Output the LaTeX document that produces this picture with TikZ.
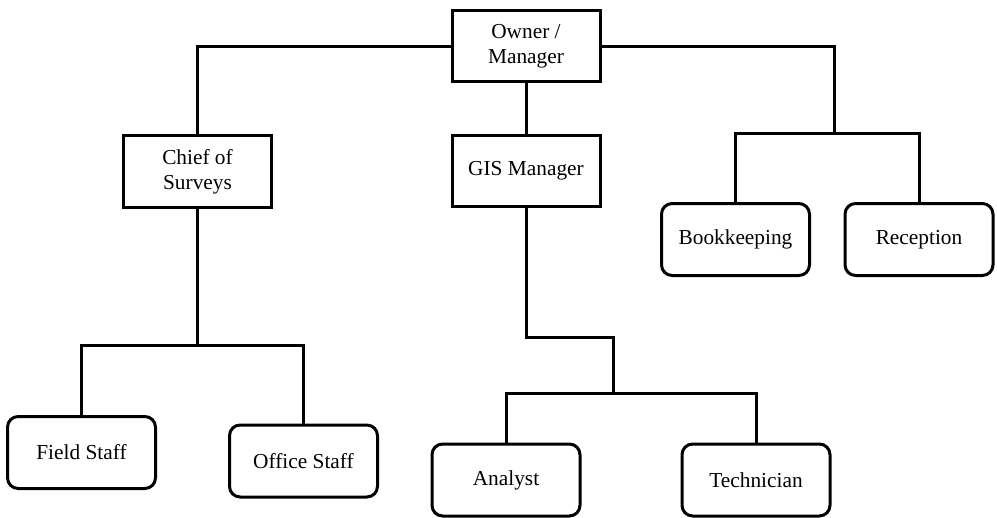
\documentclass[tikz,border=0pt]{standalone}
\usepackage{fontspec}
\setmainfont{Liberation Serif}
\begin{document}
\begin{tikzpicture}[x=0.75pt,y=-0.75pt,
  line width=2.25pt, line join=miter,
  every node/.style={font=\fontsize{16pt}{19pt}\selectfont, inner sep=0pt, align=center},
  sqbox/.style={draw, rectangle, minimum width=111pt, minimum height=53.5pt},
  rndbox/.style={draw, rectangle, rounded corners=8pt, minimum width=111pt, minimum height=54pt},
  conn/.style={line width=2.25pt}]
\useasboundingbox (0,0) rectangle (997,518);
\fill[white] (0,0) rectangle (997,518);
% nodes
\node[sqbox] (owner) at (526,46) {Owner /\\Manager};
\node[sqbox] (chief) at (197.5,171.5) {Chief of\\Surveys};
\node[sqbox] (gis) at (526,171) {GIS Manager};
\node[rndbox] (book) at (735.5,239.5) {Bookkeeping};
\node[rndbox] (recep) at (919,239.5) {Reception};
\node[rndbox] (field) at (81.5,452.5) {Field Staff};
\node[rndbox] (office) at (303.5,461) {Office Staff};
\node[rndbox] (analyst) at (506,480) {Analyst};
\node[rndbox] (tech) at (756,480) {Technician};
% junctions
\coordinate (jr) at (834,133);
\coordinate (jc) at (197.5,345);
\coordinate (jg) at (613,337);
\coordinate (jg2) at (613,393);
% connectors
\draw[conn] (owner.west) -| (chief.north);
\draw[conn] (owner.east) -| (jr);
\draw[conn] (book.north) |- (jr) -| (recep.north);
\draw[conn] (owner.south) -- (gis.north);
\draw[conn] (chief.south) -- (jc);
\draw[conn] (field.north) |- (jc) -| (office.north);
\draw[conn] (gis.south) |- (jg) -- (jg2);
\draw[conn] (analyst.north) |- (jg2) -| (tech.north);
\end{tikzpicture}
\end{document}
